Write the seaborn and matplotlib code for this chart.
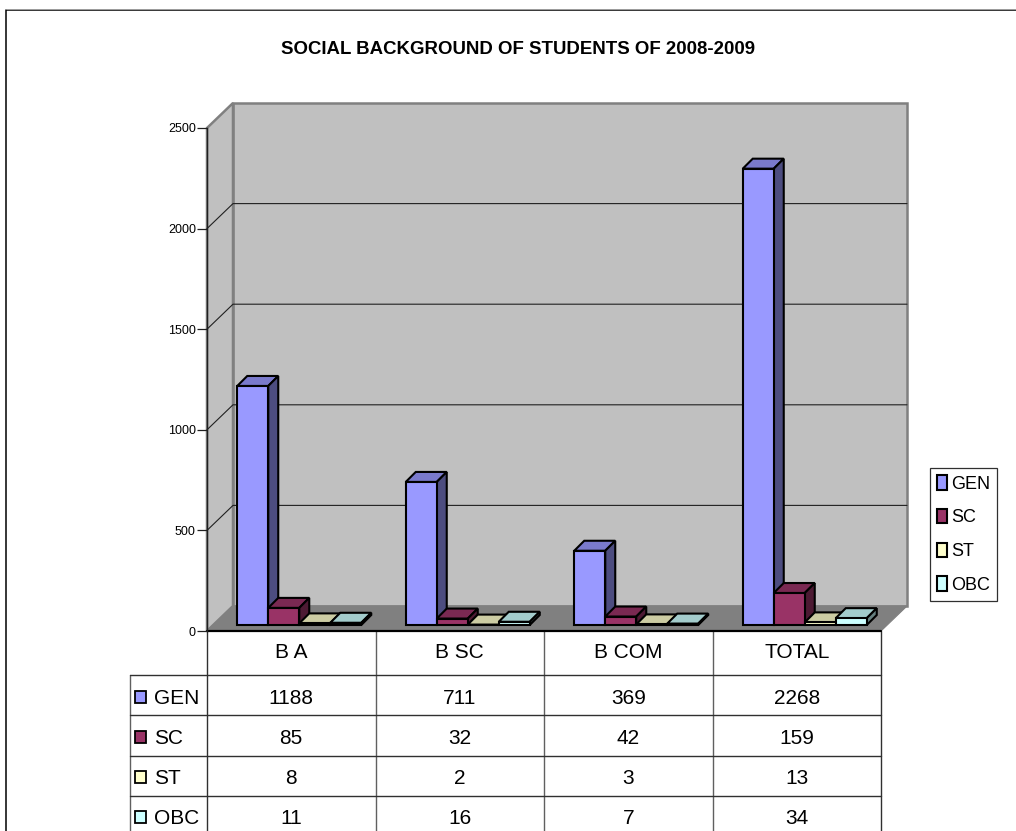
import matplotlib
matplotlib.use('Agg')
import matplotlib.pyplot as plt
from matplotlib.patches import Polygon, Rectangle
from matplotlib.colors import to_rgb
import pandas as pd
import seaborn as sns

courses = ['B A', 'B SC', 'B COM', 'TOTAL']
groups = ['GEN', 'SC', 'ST', 'OBC']
gen = [1188, 711, 369, 2268]
sc = [85, 32, 42, 159]
st = [8, 2, 3, 13]
obc = [11, 16, 7, 34]
colors = ['#9999FF', '#993366', '#FFFFCC', '#CCFFFF']
y_ticks = [0, 500, 1000, 1500, 2000, 2500]
title = 'SOCIAL BACKGROUND OF STUDENTS OF 2008-2009'

W, H = 1016, 831
LEFT, RIGHT, BASE, TOP = 207, 881, 631, 128
DEPTH_X, DEPTH_Y = 26, 25
BAR_DX, BAR_DY = 8, 6
BAR_DEPTH = 10
GRAY = '#808080'

sns.set_theme(style='white')
plt.rcParams['font.family'] = ['Liberation Sans', 'DejaVu Sans']

rows = []
for name, values in zip(groups, [gen, sc, st, obc]):
    for course, value in zip(courses, values):
        rows.append({'course': course, 'group': name, 'count': value})
df = pd.DataFrame(rows)


def px_axes(left, right, bottom, top, zorder):
    return fig.add_axes([left / W, 1 - bottom / H, (right - left) / W, (bottom - top) / H], zorder=zorder)


def shade(color, factor):
    return tuple(c * factor for c in to_rgb(color))


fig = plt.figure(figsize=(W / 100, H / 100), dpi=100, facecolor='white')

# background layer in pixel coordinates: page frame, walls, floor, table
pix = fig.add_axes([0, 0, 1, 1], zorder=0)
pix.set_xlim(0, W)
pix.set_ylim(H, 0)
pix.axis('off')

# the page frame only shows on the top and left
pix.plot([6, 6, W], [H, 10, 10], color='black', lw=1.1)
pix.plot([6, W], [9, 9], color='#A0A0A0', lw=0.7)

back_l, back_r = LEFT + DEPTH_X, RIGHT + DEPTH_X
back_b, back_t = BASE - DEPTH_Y, TOP - DEPTH_Y
pix.add_patch(Rectangle((back_l, back_t), back_r - back_l, back_b - back_t,
                        facecolor='#C0C0C0', edgecolor=GRAY, lw=1.8))
pix.add_patch(Polygon([(LEFT, TOP), (back_l, back_t), (back_l, back_b), (LEFT, BASE)],
                      facecolor='#C0C0C0', edgecolor=GRAY, lw=1.8))
pix.add_patch(Polygon([(LEFT, BASE), (RIGHT, BASE), (back_r, back_b), (back_l, back_b)],
                      facecolor=GRAY, edgecolor=GRAY, lw=0.8))

px_per_unit = (BASE - TOP) / y_ticks[-1]
for tick in y_ticks[1:-1]:
    y = BASE - tick * px_per_unit
    pix.plot([LEFT, back_l, back_r], [y, y - DEPTH_Y, y - DEPTH_Y], color='#202020', lw=0.8)

# data table under the plot
col_w = (RIGHT - LEFT) / len(courses)
row_lines = [675, 715, 756, 796]
row_mids = [698, 738, 778, 818]
for i in range(len(courses) + 1):
    pix.plot([LEFT + i * col_w] * 2, [BASE, H], color='#303030' if i in (0, 4) else '#606060', lw=1.0)
pix.plot([130, 130], [675, H], color='#606060', lw=1.0)
pix.plot([LEFT, RIGHT], [BASE, BASE], color='black', lw=1.6)
for y in row_lines:
    pix.plot([130, RIGHT], [y, y], color='#303030', lw=1.0)

for i, course in enumerate(courses):
    pix.text(LEFT + (i + 0.5) * col_w, 653, course, ha='center', va='center', fontsize=15, color='black')
for name, color, values, y in zip(groups, colors, [gen, sc, st, obc], row_mids):
    pix.add_patch(Rectangle((135, y - 7), 11, 12, facecolor=color, edgecolor='black', lw=1.3))
    pix.text(154, y, name, ha='left', va='center', fontsize=15, color='black')
    for i, value in enumerate(values):
        pix.text(LEFT + (i + 0.5) * col_w, y, str(value), ha='center', va='center', fontsize=15, color='black')

# value axis on the front plane
scale = px_axes(LEFT, RIGHT, BASE, TOP, 1)
scale.patch.set_alpha(0)
scale.set_ylim(0, y_ticks[-1])
scale.set_yticks(y_ticks)
scale.set_yticklabels([str(t) for t in y_ticks], fontsize=9, color='black')
scale.set_xticks([])
scale.tick_params(axis='y', left=True, length=7, width=0.9, pad=1, color='#202020')
sns.despine(ax=scale, top=True, right=True, bottom=True)
scale.spines['left'].set_color('#202020')
scale.spines['left'].set_linewidth(1.0)

# bars sit a little behind the front plane
ax = px_axes(LEFT + BAR_DX, RIGHT + BAR_DX, BASE - BAR_DY, TOP - BAR_DY, 2)
sns.barplot(data=df, x='course', y='count', hue='group', order=courses, hue_order=groups,
            palette=colors, saturation=1, width=0.736, gap=0, edgecolor='black', linewidth=1.5, ax=ax)
ax.set_xlim(-0.5, 3.5)
ax.set_ylim(0, y_ticks[-1])
ax.patch.set_alpha(0)
ax.axis('off')

dx = BAR_DEPTH / col_w
dy = BAR_DEPTH / px_per_unit
order = 0
for k in range(len(courses)):
    for j, color in enumerate(colors):
        bar = ax.containers[j][k]
        x0, x1, h = bar.get_x(), bar.get_x() + bar.get_width(), bar.get_height()
        base = 3 + order * 3
        top_face = Polygon([(x0, h), (x1, h), (x1 + dx, h + dy), (x0 + dx, h + dy)],
                           facecolor=shade(color, 0.8), edgecolor='black', lw=1.5,
                           zorder=base, clip_on=False)
        side_face = Polygon([(x1, 0), (x1, h), (x1 + dx, h + dy), (x1 + dx, dy)],
                            facecolor=shade(color, 0.5), edgecolor='black', lw=1.5,
                            zorder=base + 1, clip_on=False)
        ax.add_patch(top_face)
        ax.add_patch(side_face)
        bar.set_zorder(base + 2)
        bar.set_clip_on(False)
        order += 1

handles, labels = ax.get_legend_handles_labels()
leg = ax.legend(handles, labels, loc='upper left', bbox_to_anchor=(930 / W, 1 - 468 / H),
                bbox_transform=fig.transFigure, frameon=True, fancybox=False, framealpha=1,
                edgecolor='#303030', fontsize=13, labelcolor='black', handlelength=0.55, handleheight=0.85,
                handletextpad=0.2, labelspacing=0.9, borderpad=0.4, borderaxespad=0)
leg.get_frame().set_linewidth(0.9)
leg.set_zorder(500)

fig.text(518 / W, 1 - 49 / H, title, ha='center', va='center', fontsize=13.4, fontweight='bold', color='black')

fig.savefig('out.png', dpi=100, facecolor='white')
